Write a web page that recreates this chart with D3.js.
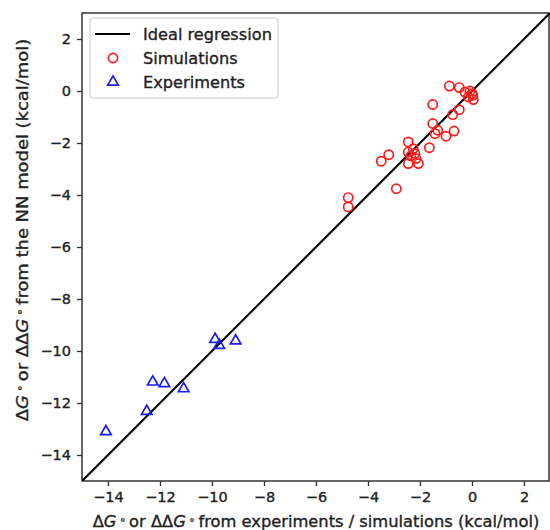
<!DOCTYPE html>
<html>
<head>
<meta charset="utf-8">
<script src="https://cdn.jsdelivr.net/npm/d3@7"></script>
<style>
  body { margin: 0; background: #fff; }
  svg text { font-family: "DejaVu Sans", sans-serif; fill: #222; stroke: #222; stroke-width: 0.35px; }
</style>
</head>
<body>
<div id="chart"></div>
<script>
// Simulations: [reference, NN model]
const simulations = [
  [-0.87, 0.19], [-0.49, 0.13], [-0.27, -0.04], [-0.08, 0.0], [0.03, -0.17],
  [0.05, -0.33], [-0.14, -0.23], [0.0, -0.1], [-1.51, -0.52], [-0.49, -0.72],
  [-0.74, -0.91], [-1.51, -1.25], [-1.32, -1.51], [-1.42, -1.64], [-0.69, -1.54],
  [-1.0, -1.74], [-1.64, -2.18], [-2.45, -1.96], [-2.26, -2.22], [-2.45, -2.35],
  [-2.35, -2.5], [-2.2, -2.4], [-2.15, -2.6], [-2.45, -2.79], [-2.06, -2.79],
  [-3.2, -2.45], [-3.49, -2.7], [-2.91, -3.76], [-4.76, -4.1], [-4.76, -4.46]
];

// Experiments: [reference, NN model]
const experiments = [
  [-14.08, -13.1], [-12.51, -12.32], [-12.28, -11.19], [-11.83, -11.25],
  [-11.09, -11.45], [-9.88, -9.55], [-9.72, -9.78], [-9.09, -9.61]
];

const idealLine = [[-15, -15], [3, 3]];
const tickValues = [-14, -12, -10, -8, -6, -4, -2, 0, 2];
const legendItems = ["Ideal regression", "Simulations", "Experiments"];

const W = 550, H = 530;
const M = { left: 82, right: 550, top: 13, bottom: 481 };

const svg = d3.select("#chart").append("svg")
  .attr("width", W).attr("height", H);

const x = d3.scaleLinear().domain([-15, 3]).range([M.left, M.right]);
const y = d3.scaleLinear().domain([-15, 3]).range([M.bottom, M.top]);

const fmt = d => (d < 0 ? "\u2212" + Math.abs(d) : String(d));

// Axes
const xAxis = svg.append("g")
  .attr("transform", `translate(0,${M.bottom})`)
  .call(d3.axisBottom(x).tickValues(tickValues).tickFormat(fmt).tickSize(5).tickPadding(6));
const yAxis = svg.append("g")
  .attr("transform", `translate(${M.left},0)`)
  .call(d3.axisLeft(y).tickValues(tickValues).tickFormat(fmt).tickSize(5).tickPadding(6));

[xAxis, yAxis].forEach(a => {
  a.select(".domain").remove();
  a.selectAll("line").attr("stroke", "#333").attr("stroke-width", 1.3);
  a.selectAll("text").attr("font-size", 14.5).attr("fill", "#222");
});

// Frame
svg.append("rect")
  .attr("x", M.left).attr("y", M.top)
  .attr("width", M.right - M.left - 1).attr("height", M.bottom - M.top)
  .attr("fill", "none").attr("stroke", "#333").attr("stroke-width", 1.5);

svg.append("clipPath").attr("id", "clip")
  .append("rect").attr("x", M.left).attr("y", M.top)
  .attr("width", M.right - M.left).attr("height", M.bottom - M.top);

const plot = svg.append("g").attr("clip-path", "url(#clip)");

// Ideal regression line
plot.append("path")
  .datum(idealLine)
  .attr("d", d3.line().x(d => x(d[0])).y(d => y(d[1])))
  .attr("stroke", "#000").attr("stroke-width", 2.2).attr("fill", "none");

// Simulations
plot.selectAll(".sim")
  .data(simulations)
  .join("circle")
  .attr("class", "sim")
  .attr("cx", d => x(d[0])).attr("cy", d => y(d[1]))
  .attr("r", 4.6)
  .attr("fill", "none").attr("stroke", "#ff1a1a").attr("stroke-width", 1.7);

// Experiments
const tri = d3.symbol().type(d3.symbolTriangle).size(48);
plot.selectAll(".exp")
  .data(experiments)
  .join("path")
  .attr("class", "exp")
  .attr("d", tri)
  .attr("transform", d => `translate(${x(d[0])},${y(d[1])})`)
  .attr("fill", "none").attr("stroke", "#1a1aff").attr("stroke-width", 1.7);

// Legend
const lg = svg.append("g");
lg.append("rect")
  .attr("x", 90).attr("y", 18).attr("width", 188).attr("height", 80)
  .attr("rx", 3).attr("fill", "#fff").attr("fill-opacity", 0.85)
  .attr("stroke", "#ccc").attr("stroke-width", 1);
const rows = [34, 58, 82];
lg.append("line")
  .attr("x1", 95).attr("x2", 130).attr("y1", rows[0]).attr("y2", rows[0])
  .attr("stroke", "#000").attr("stroke-width", 2.2);
lg.append("circle")
  .attr("cx", 113).attr("cy", rows[1]).attr("r", 4.6)
  .attr("fill", "none").attr("stroke", "#ff1a1a").attr("stroke-width", 1.7);
lg.append("path")
  .attr("d", tri)
  .attr("transform", `translate(113,${rows[2]})`)
  .attr("fill", "none").attr("stroke", "#1a1aff").attr("stroke-width", 1.7);
lg.selectAll(".lt")
  .data(legendItems)
  .join("text")
  .attr("class", "lt")
  .attr("x", 143).attr("y", (d, i) => rows[i])
  .attr("dy", "0.35em")
  .attr("font-size", 16.2)
  .text(d => d);

// Axis labels with ΔG° notation
function addLabel(sel, rest) {
  const parts = [["Δ", false], ["G", true], ["∘", "sup"], [" or ΔΔ", false], ["G", true], ["∘", "sup"], [rest, false]];
  parts.forEach(([t, style]) => {
    const ts = sel.append("tspan").text(t);
    if (style === true) ts.attr("font-style", "italic");
    if (style === "sup") ts.attr("font-size", 10).attr("baseline-shift", "45%").text(" " + t + " ");
  });
}

const xl = svg.append("text")
  .attr("x", 316).attr("y", 521)
  .attr("dy", "0.35em").attr("text-anchor", "middle").attr("font-size", 16.3);
addLabel(xl, " from experiments / simulations (kcal/mol)");

const yl = svg.append("text")
  .attr("transform", `translate(22,230) rotate(-90) scale(1.1,1)`)
  .attr("dy", "0.35em").attr("text-anchor", "middle").attr("font-size", 16.3);
addLabel(yl, " from the NN model (kcal/mol)");
</script>
</body>
</html>
